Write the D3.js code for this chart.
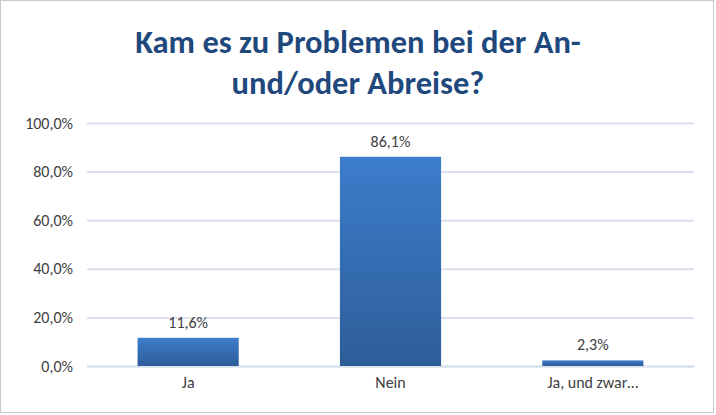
<!DOCTYPE html>
<html><head><meta charset="utf-8">
<script src="https://cdn.jsdelivr.net/npm/d3@7"></script>
<style>
body{margin:0;background:#fff;}
text{font-family:Calibri,Carlito,Lato,"Liberation Sans",sans-serif;}
</style></head>
<body><svg id="chart" width="716" height="415"></svg>
<script>
/*** DATA ***/
const categories = ['Ja', 'Nein', 'Ja, und zwar…'];
const values = [11.6, 86.1, 2.3];
const yTicks = [0, 20, 40, 60, 80, 100];

/*** DIMENSIONS ***/
const margin = {top: 123, right: 22, bottom: 49, left: 87};
const W = 716, H = 415;
const width = W - margin.left - margin.right, height = H - margin.top - margin.bottom;

const svg = d3.select('#chart');
svg.append('rect').attr('x', 0.5).attr('y', 0.5).attr('width', W - 3).attr('height', H - 3)
   .attr('fill', '#fff').attr('stroke', '#c9c9c9');

// gradient
const grad = svg.append('defs').append('linearGradient').attr('id', 'barGrad')
   .attr('x1', 0).attr('y1', 0).attr('x2', 0).attr('y2', 1);
grad.append('stop').attr('offset', '0%').attr('stop-color', '#3c7dcc');
grad.append('stop').attr('offset', '100%').attr('stop-color', '#2e5d98');

// title
const title = svg.append('text').attr('text-anchor', 'middle').attr('fill', '#1f497d')
   .attr('font-size', 32.5).attr('font-weight', 'bold');
title.append('tspan').attr('x', 358).attr('y', 53).text('Kam es zu Problemen bei der An-');
title.append('tspan').attr('x', 358).attr('y', 94).text('und/oder Abreise?');

const g = svg.append('g').attr('transform', `translate(${margin.left},${margin.top})`);

const x = d3.scaleBand().domain(categories).range([0, width]).paddingInner(0.5).paddingOuter(0.25);
const y = d3.scaleLinear().domain([0, 100]).range([height, 0]);

const fmt = v => d3.format('.1f')(v).replace('.', ',');

g.append('g').call(d3.axisLeft(y).tickValues(yTicks).tickSize(-width).tickFormat(d => fmt(d) + '%'))
  .call(a => a.select('.domain').remove())
  .call(a => a.selectAll('line').attr('stroke', '#d9e1ee').attr('stroke-width', 2))
  .call(a => a.selectAll('text').attr('fill', '#404040').attr('font-size', 16).attr('x', -14));

g.append('g').attr('transform', `translate(0,${height})`)
  .call(d3.axisBottom(x).tickSize(0))
  .call(a => a.select('.domain').attr('stroke', '#d9e1ee').attr('stroke-width', 2))
  .call(a => a.selectAll('text').attr('fill', '#404040').attr('font-size', 16).attr('dy', '1.2em'));

g.selectAll('.bar').data(values).join('rect')
  .attr('x', (d, i) => x(categories[i])).attr('width', x.bandwidth())
  .attr('y', d => y(d)).attr('height', d => height - y(d))
  .attr('fill', 'url(#barGrad)');

g.selectAll('.lbl').data(values).join('text')
  .attr('x', (d, i) => x(categories[i]) + x.bandwidth() / 2)
  .attr('y', d => y(d) - 10).attr('text-anchor', 'middle')
  .attr('fill', '#404040').attr('font-size', 16)
  .text(d => fmt(d) + '%');
</script></body></html>
